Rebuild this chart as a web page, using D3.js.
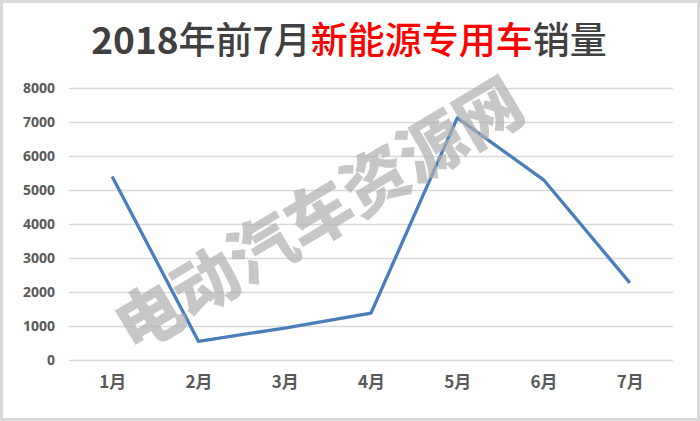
<!DOCTYPE html>
<html><head><meta charset="utf-8">
<script src="https://cdn.jsdelivr.net/npm/d3@7/dist/d3.min.js"></script>
<style>body{margin:0;background:#fff}svg{display:block}</style>
</head><body>
<svg id="c" width="700" height="421"></svg>
<script>
const categories = ["1月","2月","3月","4月","5月","6月","7月"];
const sales = [5400, 550, 940, 1380, 7120, 5300, 2270];
const yTicks = [0,1000,2000,3000,4000,5000,6000,7000,8000];

const svg = d3.select("#c");
const W = 700, H = 421;
const m = {left: 69, right: 27, top: 88, bottom: 61};

svg.append("rect").attr("x",1.5).attr("y",1.5).attr("width",W-3).attr("height",H-3)
  .attr("fill","#fff").attr("stroke","#d9d9d9").attr("stroke-width",3);

const x = d3.scalePoint().domain(categories).range([m.left, W - m.right]).padding(0.5);
const y = d3.scaleLinear().domain([0, 8000]).range([H - m.bottom, m.top]);

const yAxis = d3.axisLeft(y).tickValues(yTicks).tickFormat(d3.format("d"))
  .tickSize(-(W - m.right - m.left)).tickPadding(14);
const gy = svg.append("g").attr("transform", `translate(${m.left},0)`).call(yAxis);
gy.select(".domain").remove();
gy.selectAll(".tick line").attr("stroke","#d9d9d9").attr("stroke-width",1.3);
gy.selectAll(".tick text").attr("fill","#595959").style("font-family","Open Sans, Liberation Sans, sans-serif")
  .style("font-size","14px").style("font-weight","bold");

const xAxis = d3.axisBottom(x).tickSize(0).tickPadding(16);
const gx = svg.append("g").attr("transform", `translate(0,${H - m.bottom})`).call(xAxis);
gx.select(".domain").remove();
gx.selectAll(".tick text").attr("fill","#595959").style("font-family","Noto Sans CJK SC, sans-serif")
  .style("font-size","17px").style("font-weight","bold");

svg.append("path").datum(sales)
  .attr("fill","none").attr("stroke","#4a7ebb").attr("stroke-width",3.3).attr("stroke-linejoin","round")
  .attr("d", d3.line().x((d,i)=>x(categories[i])).y(d=>y(d)));

svg.append("text").attr("transform","translate(322,220) rotate(-31)")
  .attr("text-anchor","middle").attr("dominant-baseline","middle")
  .style("font-family","Noto Sans CJK SC, sans-serif").style("font-size","66px").style("font-weight","900")
  .attr("fill","#b0b0b0").attr("opacity",0.7).text("电动汽车资源网");

const t = svg.append("text").attr("x",349).attr("y",54).attr("text-anchor","middle")
  .style("font-family","Noto Sans CJK SC, sans-serif").style("font-size","37px");
t.append("tspan").attr("fill","#404040").style("font-weight","bold").text("2018");
t.append("tspan").attr("fill","#404040").style("font-weight","500").text("年前7月");
t.append("tspan").attr("fill","#ff0000").style("font-weight","500").text("新能源专用车");
t.append("tspan").attr("fill","#404040").style("font-weight","500").text("销量");
</script>
</body></html>
